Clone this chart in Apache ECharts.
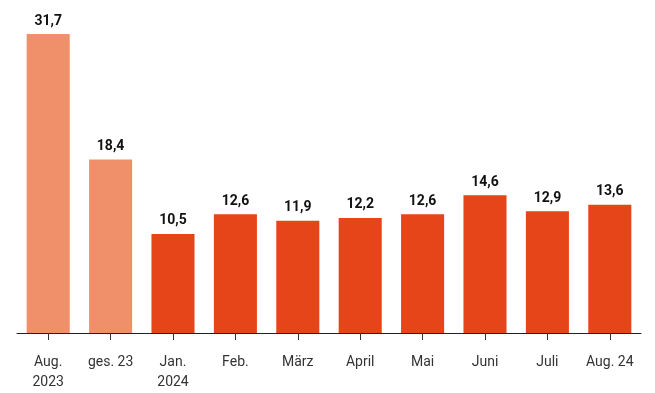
<!DOCTYPE html>
<html><head><meta charset="utf-8">
<script src="https://cdn.jsdelivr.net/npm/echarts@6/dist/echarts.min.js"></script>
<style>html,body{margin:0;padding:0;background:#fff}#c{width:655px;height:393px}</style>
</head><body><div id="c"></div>
<script>
const categories = ["Aug.\n2023", "ges. 23", "Jan.\n2024", "Feb.", "März", "April", "Mai", "Juni", "Juli", "Aug. 24"];
const values = [31.7, 18.4, 10.5, 12.6, 11.9, 12.2, 12.6, 14.6, 12.9, 13.6];
const highlight = [true, true, false, false, false, false, false, false, false, false];
const lightColor = "#F0906A", darkColor = "#E64519";
const chart = echarts.init(document.getElementById("c"));
chart.setOption({
  animation: false,
  grid: {left: 17, right: 14, top: 34, bottom: 60},
  xAxis: {
    type: "category", data: categories,
    axisLine: {lineStyle: {color: "#222", width: 1}},
    axisTick: {show: true, alignWithLabel: true, length: 7, lineStyle: {color: "#333"}},
    axisLabel: {color: "#333", fontSize: 14, fontFamily: "Roboto", lineHeight: 20, margin: 19, interval: 0}
  },
  yAxis: {type: "value", min: 0, max: 31.7, show: false, splitLine: {show: false}},
  series: [{
    type: "bar",
    data: values.map((v, i) => ({value: v, itemStyle: {color: highlight[i] ? lightColor : darkColor}})),
    barWidth: "69%",
    label: {show: true, position: "top", distance: 6, color: "#111", fontSize: 14, fontWeight: "bold",
      fontFamily: "Roboto", formatter: p => String(p.value).replace(".", ",")}
  }]
});
</script></body></html>
